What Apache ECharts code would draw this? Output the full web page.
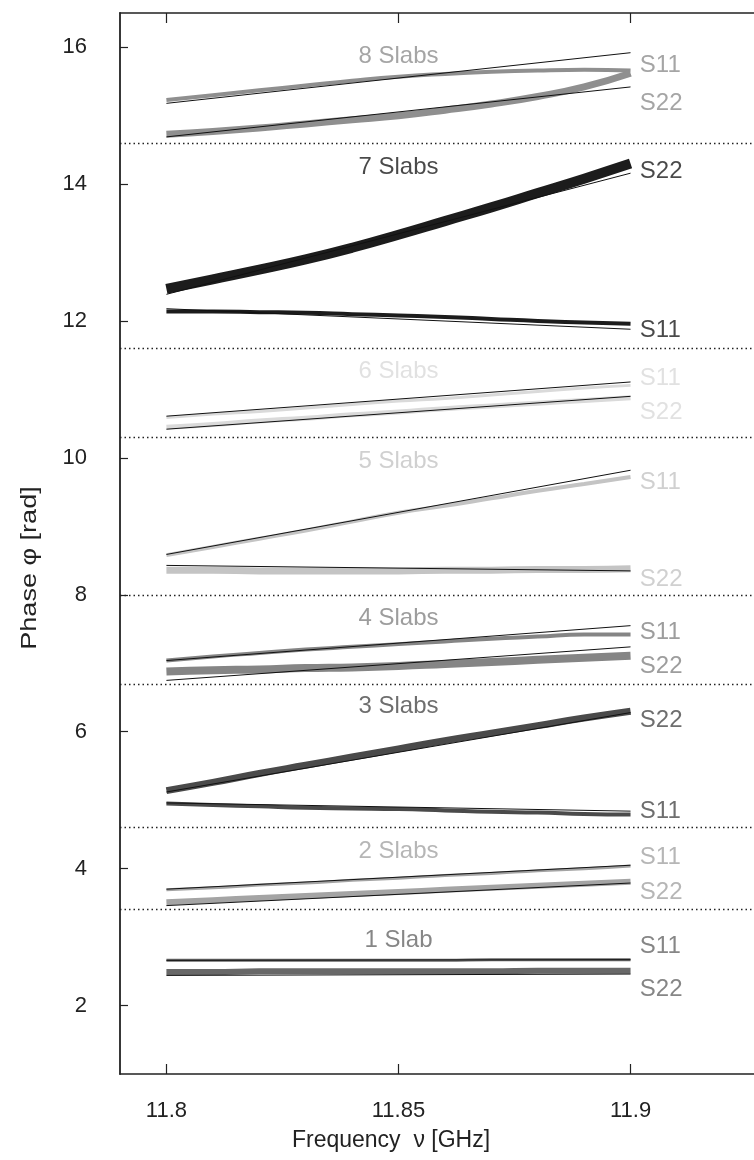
<!DOCTYPE html>
<html>
<head>
<meta charset="utf-8">
<script src="https://cdn.jsdelivr.net/npm/echarts@6/dist/echarts.min.js"></script>
<style>html,body{margin:0;padding:0;background:#fff}#c{width:754px;height:1160px}</style>
</head>
<body>
<div id="c"></div>
<script>
// ---- data ----
const freq = [11.80, 11.81, 11.82, 11.83, 11.84, 11.85, 11.86, 11.87, 11.88, 11.89, 11.90];
const fitFreq = [11.80, 11.90];
const xTicks = [11.8, 11.85, 11.9];
const yTicks = [2, 4, 6, 8, 10, 12, 14, 16];
const separators = [14.6, 11.6, 10.3, 8.0, 6.7, 4.6, 3.4];

const groupNames = ['8 Slabs', '7 Slabs', '6 Slabs', '5 Slabs', '4 Slabs', '3 Slabs', '2 Slabs', '1 Slab'];

// measured phase (S11 / S22) for each slab count
const s11_8 = [15.23, 15.30, 15.37, 15.44, 15.51, 15.57, 15.61, 15.64, 15.66, 15.67, 15.66];
const s22_8 = [14.73, 14.77, 14.82, 14.88, 14.94, 15.00, 15.08, 15.17, 15.28, 15.42, 15.62];
const s11_7 = [12.14, 12.14, 12.13, 12.12, 12.10, 12.08, 12.06, 12.03, 12.00, 11.98, 11.96];
const s22_7 = [12.47, 12.61, 12.75, 12.90, 13.07, 13.26, 13.46, 13.66, 13.87, 14.08, 14.30];
const s11_6 = [10.59, 10.64, 10.68, 10.73, 10.78, 10.83, 10.87, 10.92, 10.97, 11.02, 11.06];
const s22_6 = [10.45, 10.49, 10.54, 10.58, 10.63, 10.67, 10.72, 10.76, 10.80, 10.84, 10.88];
const s11_5 = [8.58, 8.70, 8.82, 8.94, 9.07, 9.20, 9.30, 9.41, 9.52, 9.62, 9.72];
const s22_5 = [8.36, 8.36, 8.35, 8.35, 8.35, 8.35, 8.36, 8.36, 8.37, 8.37, 8.38];
const s11_4 = [7.04, 7.10, 7.15, 7.20, 7.24, 7.28, 7.32, 7.36, 7.39, 7.42, 7.42];
const s22_4 = [6.88, 6.90, 6.91, 6.93, 6.94, 6.96, 6.99, 7.02, 7.05, 7.08, 7.11];
const s11_3 = [4.95, 4.93, 4.91, 4.89, 4.88, 4.87, 4.85, 4.83, 4.82, 4.80, 4.79];
const s22_3 = [5.14, 5.26, 5.39, 5.51, 5.63, 5.75, 5.87, 5.98, 6.09, 6.20, 6.30];
const s11_2 = [3.69, 3.72, 3.76, 3.79, 3.83, 3.86, 3.90, 3.93, 3.97, 4.00, 4.04];
const s22_2 = [3.51, 3.54, 3.57, 3.60, 3.63, 3.66, 3.69, 3.72, 3.75, 3.78, 3.81];
const s11_1 = [2.66, 2.66, 2.66, 2.66, 2.66, 2.66, 2.66, 2.67, 2.67, 2.67, 2.67];
const s22_1 = [2.49, 2.49, 2.50, 2.50, 2.50, 2.50, 2.50, 2.50, 2.51, 2.51, 2.51];

// fitted (model) lines: value at 11.8 and 11.9 GHz
const fit11_8 = [15.18, 15.92];
const fit22_8 = [14.69, 15.42];
const fit11_7 = [12.18, 11.88];
const fit22_7 = [12.39, 14.16];
const fit11_6 = [10.61, 11.11];
const fit22_6 = [10.42, 10.90];
const fit11_5 = [8.59, 9.82];
const fit22_5 = [8.43, 8.35];
const fit11_4 = [7.04, 7.55];
const fit22_4 = [6.75, 7.24];
const fit11_3 = [4.96, 4.84];
const fit22_3 = [5.12, 6.28];
const fit11_2 = [3.70, 4.05];
const fit22_2 = [3.46, 3.79];
const fit11_1 = [2.66, 2.67];
const fit22_1 = [2.44, 2.46];

// annotation texts and their anchor values
const groupLabelX = 11.85;
const groupLabelY = [15.86, 14.25, 11.27, 9.95, 7.66, 6.37, 4.25, 2.95];
const portLabelX = 11.902;
const portLabelS11Y = [15.73, 11.87, 11.16, 9.65, 7.45, 4.84, 4.17, 2.87];
const portLabelS22Y = [15.18, 14.18, 10.67, 8.23, 6.95, 6.16, 3.65, 2.24];
const xTitle = 'Frequency  \u03bd [GHz]';
const yTitle = 'Phase \u03c6 [rad]';

// ---- styles ----
const groupColors = ['#8f8f8f', '#1c1c1c', '#dadada', '#c4c4c4', '#858585', '#4a4a4a', '#a4a4a4', '#686868'];
const s11Widths = [4, 4, 3, 4, 4, 4, 3, 3];
const s22Widths = [7, 10, 5, 7, 8, 7, 6, 6];
const FONT = '"Liberation Sans", Arial, sans-serif';

const S11 = [s11_8, s11_7, s11_6, s11_5, s11_4, s11_3, s11_2, s11_1];
const S22 = [s22_8, s22_7, s22_6, s22_5, s22_4, s22_3, s22_2, s22_1];
const F11 = [fit11_8, fit11_7, fit11_6, fit11_5, fit11_4, fit11_3, fit11_2, fit11_1];
const F22 = [fit22_8, fit22_7, fit22_6, fit22_5, fit22_4, fit22_3, fit22_2, fit22_1];

const pair = (xs, ys) => xs.map((x, i) => [x, ys[i]]);

const series = [];
// measured bands
groupNames.forEach((g, k) => {
  [[S11[k], s11Widths[k], 'S11'], [S22[k], s22Widths[k], 'S22']].forEach(([arr, w, p]) => {
    series.push({
      name: g + ' ' + p, type: 'line', data: pair(freq, arr), smooth: true,
      showSymbol: false, symbol: 'none', silent: true,
      lineStyle: { color: groupColors[k], width: w, cap: 'butt' }, z: 2
    });
  });
});
// fitted lines
groupNames.forEach((g, k) => {
  [F11[k], F22[k]].forEach((arr, j) => {
    series.push({
      name: g + (j ? ' fit S22' : ' fit S11'), type: 'line', data: pair(fitFreq, arr),
      showSymbol: false, symbol: 'none', silent: true,
      lineStyle: { color: '#111', width: 1 }, z: 3
    });
  });
});
// separators
series.push({
  type: 'line', data: [], silent: true,
  markLine: {
    silent: true, symbol: 'none', label: { show: false },
    lineStyle: { color: '#222', type: [1.5, 3], width: 1.3 },
    data: separators.map(v => ({ yAxis: v }))
  }
});
// text annotations
const labelData = [];
groupNames.forEach((g, k) => {
  labelData.push({ value: [groupLabelX, groupLabelY[k]], txt: g, align: 'center', color: groupColors[k] });
  labelData.push({ value: [portLabelX, portLabelS11Y[k]], txt: 'S11', align: 'left', color: groupColors[k] });
  labelData.push({ value: [portLabelX, portLabelS22Y[k]], txt: 'S22', align: 'left', color: groupColors[k] });
});
series.push({
  type: 'scatter', symbolSize: 0, silent: true, z: 5,
  data: labelData.map(d => ({
    value: d.value,
    label: {
      show: true, position: [0, 0], formatter: d.txt, align: d.align, verticalAlign: 'middle',
      color: d.color, fontSize: 24, fontFamily: FONT
    }
  }))
});

const chart = echarts.init(document.getElementById('c'), null, { renderer: 'canvas' });
chart.setOption({
  animation: false,
  backgroundColor: '#ffffff',
  grid: { left: 120, right: 0, top: 13, bottom: 86, show: false },
  xAxis: [{
    type: 'value', min: 11.79, max: 11.9266, position: 'bottom',
    axisLine: { show: true, lineStyle: { color: '#222', width: 1.5 } },
    axisTick: { show: true, inside: true, length: 10, customValues: xTicks, lineStyle: { color: '#222', width: 1.2 } },
    axisLabel: { show: true, customValues: xTicks, margin: 26, fontSize: 22, color: '#222', fontFamily: FONT },
    splitLine: { show: false },
    name: xTitle, nameLocation: 'middle', nameGap: 55,
    nameTextStyle: { fontSize: 23, color: '#222', fontFamily: FONT, padding: [0, 92, 0, 0] }
  }, {
    type: 'value', min: 11.79, max: 11.9266, position: 'top',
    axisLine: { show: true, lineStyle: { color: '#222', width: 1.5 } },
    axisTick: { show: true, inside: true, length: 10, customValues: xTicks, lineStyle: { color: '#222', width: 1.2 } },
    axisLabel: { show: false }, splitLine: { show: false }
  }],
  yAxis: {
    type: 'value', min: 1, max: 16.5,
    axisLine: { show: true, lineStyle: { color: '#222', width: 1.8 } },
    axisTick: { show: true, inside: true, length: 8, customValues: yTicks, lineStyle: { color: '#222', width: 1.2 } },
    axisLabel: { show: true, customValues: yTicks, margin: 33, fontSize: 22, color: '#222', fontFamily: FONT },
    splitLine: { show: false }
  },
  graphic: [{
    type: 'text', x: 30, y: 568, rotation: Math.PI / 2, scaleX: 1.23, silent: true,
    style: {
      text: yTitle, fontSize: 22, fontFamily: FONT, fill: '#222',
      align: 'center', verticalAlign: 'middle', textAlign: 'center', textVerticalAlign: 'middle'
    }
  }],
  series: series
});
</script>
</body>
</html>
